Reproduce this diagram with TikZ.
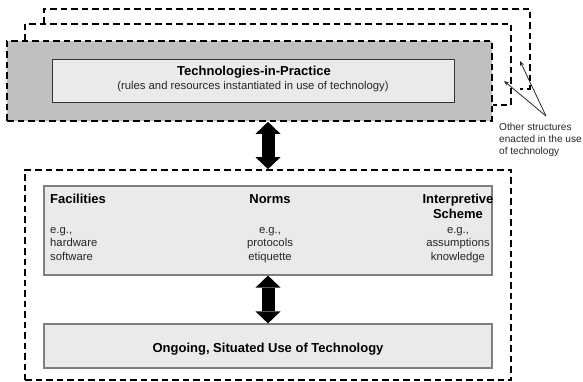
\documentclass[tikz,border=0pt]{standalone}
\usepackage{fontspec}
\setmainfont{Liberation Sans}
\usetikzlibrary{arrows.meta}
\definecolor{greyfill}{HTML}{C0C0C0}
\definecolor{boxfill}{HTML}{EAEAEA}
\definecolor{boxline}{HTML}{7F7F7F}
\definecolor{txtcol}{HTML}{262626}
\begin{document}
\begin{tikzpicture}[x=1pt,y=-1pt,
  dashedline/.style={draw=black, line width=1.7pt, dash pattern=on 6.5pt off 4pt},
  inbox/.style={rectangle, draw=boxline, line width=1.2pt, fill=boxfill, inner sep=0pt},
  boldtxt/.style={font=\fontsize{13}{15}\selectfont\bfseries, inner sep=0pt, text=black},
  bodytxt/.style={font=\fontsize{11.3}{13.5}\selectfont, inner sep=0pt, text=txtcol},
  notetxt/.style={font=\fontsize{10.1}{12}\selectfont, inner sep=0pt, text=txtcol, anchor=base west},
  bigarrow/.style={line width=13pt, line cap=butt,
    {Triangle[width=25pt,length=12pt,line width=0pt]}-{Triangle[width=25pt,length=12pt,line width=0pt]}},
  notearrow/.style={draw=txtcol, line width=0.8pt, -{Stealth[length=5pt,width=4pt]}}]
\useasboundingbox (0,0) rectangle (583,382);

% stacked structures behind
\draw[dashedline] (44,24) -- (44,9) -- (530,9) -- (530,89) -- (520,89);
\draw[dashedline] (25,41) -- (25,24) -- (511,24) -- (511,105) -- (493,105);

% technologies-in-practice
\node[dashedline, rectangle, fill=greyfill, minimum width=485pt, minimum height=80pt, inner sep=0pt] (tip) at (249.5,81) {};
\node[inbox, draw=black!80, line width=1pt, minimum width=402pt, minimum height=43pt] (tipinner) at (253,81.5) {};
\node[boldtxt, anchor=base] (tiptitle) at (254,76) {Technologies-in-Practice};
\node[bodytxt, anchor=base] (tipsub) at (253,90) {(rules and resources instantiated in use of technology)};

% lower structure
\node[dashedline, rectangle, minimum width=486pt, minimum height=210pt, inner sep=0pt] (use) at (268,275) {};
\node[inbox, minimum width=448pt, minimum height=89pt] (structs) at (268,230.5) {};
\node[inbox, minimum width=448pt, minimum height=44pt] (ongoing) at (268,346) {};
\node[boldtxt, anchor=base] (ongoingtxt) at (268,352) {Ongoing, Situated Use of Technology};

% columns
\node[boldtxt, anchor=base west] (fac) at (50,203) {Facilities};
\node[bodytxt, anchor=base west] (fac1) at (50,233) {e.g.,};
\node[bodytxt, anchor=base west] (fac2) at (50,246.5) {hardware};
\node[bodytxt, anchor=base west] (fac3) at (50,260) {software};

\node[boldtxt, anchor=base] (norms) at (270,203) {Norms};
\node[bodytxt, anchor=base] (norms1) at (270,233) {e.g.,};
\node[bodytxt, anchor=base] (norms2) at (270,246.5) {protocols};
\node[bodytxt, anchor=base] (norms3) at (270,260) {etiquette};

\node[boldtxt, anchor=base] (interp) at (458,203) {Interpretive};
\node[boldtxt, anchor=base] (interpb) at (458,218) {Scheme};
\node[bodytxt, anchor=base] (interp1) at (458,233) {e.g.,};
\node[bodytxt, anchor=base] (interp2) at (458,246.5) {assumptions};
\node[bodytxt, anchor=base] (interp3) at (458,260) {knowledge};

% big double arrows
\draw[bigarrow] (tip.south -| use.north) -- (use.north);
\draw[bigarrow] (structs.south) -- (ongoing.north);

% annotation
\node[notetxt] (note1) at (499,131) {Other structures};
\node[notetxt] (note2) at (499,143) {enacted in the use};
\node[notetxt] (note3) at (499,155) {of technology};
\coordinate (fork) at (546,116);
\coordinate (fartip) at (520,61);
\coordinate (midtip) at (504,81);
\draw[notearrow] (fork) -- (fartip);
\draw[notearrow] (fork) -- (midtip);
\end{tikzpicture}
\end{document}
